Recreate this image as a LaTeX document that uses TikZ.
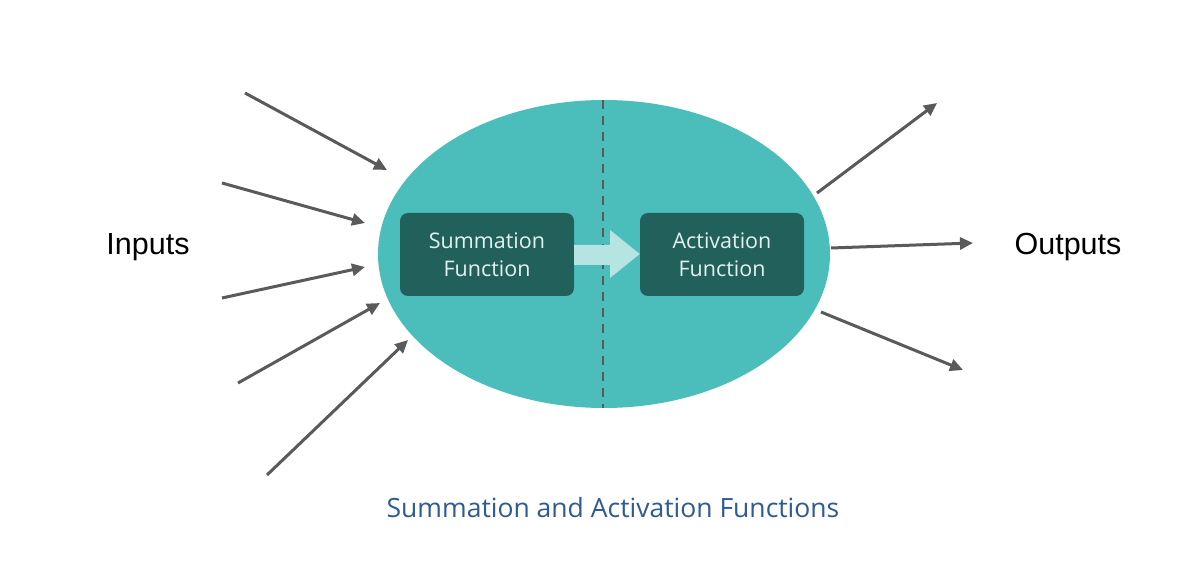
\documentclass[tikz,border=0pt]{standalone}
\usepackage{fontspec}
\setmainfont{Open Sans}
\newfontfamily\labfont{Liberation Sans}
\usetikzlibrary{arrows.meta,shapes.geometric}
\definecolor{teal1}{HTML}{4BBEBB}
\definecolor{boxc}{HTML}{22605C}
\definecolor{boxtext}{HTML}{E2F2F0}
\definecolor{lightarr}{HTML}{B6E4E2}
\definecolor{arrgray}{HTML}{5A5A5A}
\definecolor{capblue}{HTML}{2F5B93}
\tikzset{
  fnbox/.style={fill=boxc, rounded corners=8pt, minimum width=174pt, minimum height=83pt, align=center, text=boxtext, font=\fontsize{21.5}{28}\selectfont, inner sep=0pt},
  io/.style={draw=arrgray, line width=3pt, -{Triangle[length=13pt,width=12pt]}},
  lab/.style={font=\labfont\fontsize{30.5}{32}\selectfont, text=black},
}
\begin{document}
\begin{tikzpicture}[x=1pt,y=-1pt]
\useasboundingbox (0,0) rectangle (1178,561);
\fill[white] (0,0) rectangle (1178,561);
\node[ellipse, fill=teal1, minimum width=452pt, minimum height=308pt, inner sep=0pt] (cell) at (604,254) {};
\coordinate (dtop) at (603,100);
\coordinate (dbot) at (603,408);
\draw[arrgray, line width=2.5pt, dash pattern=on 9pt off 7pt] (dtop) -- (dbot);
\node[fnbox, minimum width=174pt] (sum) at (487,254.5) {Summation\\Function};
\node[fnbox, minimum width=164pt] (act) at (722,254.5) {Activation\\Function};
\fill[lightarr] (sum.east |- 0,245) -- (610,245) -- (610,230) -- (act.west |- 0,254) -- (610,278) -- (610,265) -- (sum.east |- 0,265) -- cycle;
% inputs
\coordinate (i1) at (245,93);  \coordinate (e1) at (387,170);
\coordinate (i2) at (222,183); \coordinate (e2) at (365,223);
\coordinate (i3) at (222,298); \coordinate (e3) at (365,267);
\coordinate (i4) at (238,383); \coordinate (e4) at (380,303);
\coordinate (i5) at (267,475); \coordinate (e5) at (408,340);
\foreach \k in {1,...,5} {\draw[io] (i\k) -- (e\k);}
% outputs
\coordinate (o1) at (817,193); \coordinate (f1) at (937,103);
\coordinate (o2) at (831,248); \coordinate (f2) at (973,243);
\coordinate (o3) at (821,312); \coordinate (f3) at (963,370);
\foreach \k in {1,2,3} {\draw[io] (o\k) -- (f\k);}
\node[lab] (inputs) at (148,247) {Inputs};
\node[lab] (outputs) at (1068,247) {Outputs};
\node[text=capblue, font=\fontsize{26.5}{30}\selectfont] (cap) at (613,508) {Summation and Activation Functions};
\end{tikzpicture}
\end{document}
